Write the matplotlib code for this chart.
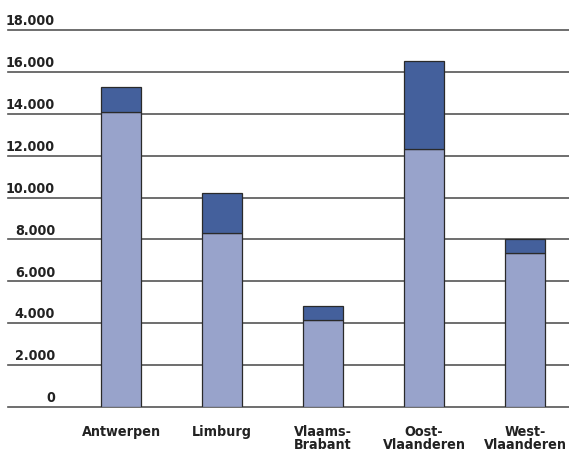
import matplotlib.pyplot as plt
from matplotlib import font_manager

condensed = [f.fname for f in font_manager.fontManager.ttflist
             if 'Condensed' in f.fname and 'Bold' in f.fname and 'Oblique' not in f.fname
             and 'Sans' in f.fname and 'Mono' not in f.fname]
if condensed:
    fp = font_manager.FontProperties(fname=condensed[0], size=10.3)
else:
    fp = font_manager.FontProperties(family='DejaVu Sans', weight='bold', size=9)

provinces = ['Antwerpen', 'Limburg', 'Vlaams-\nBrabant', 'Oost-\nVlaanderen', 'West-\nVlaanderen']
base = [14100, 8300, 4150, 12300, 7350]
extra = [1200, 1900, 650, 4200, 650]
yticks = [0, 2000, 4000, 6000, 8000, 10000, 12000, 14000, 16000, 18000]
ylabels = ['0', '2.000', '4.000', '6.000', '8.000', '10.000', '12.000', '14.000', '16.000', '18.000']

fig = plt.figure(figsize=(5.69, 4.52), dpi=100)
ax = fig.add_axes([8/569, 1-408/452, 561/569, 377/452])

x = list(range(len(provinces)))
for v in yticks:
    ax.axhline(v, color='#555555', lw=1.2, zorder=0, clip_on=False)
ax.bar(x, base, width=0.4, color='#98A3CB', edgecolor='#2a2a2a', lw=0.9, zorder=2)
ax.bar(x, extra, bottom=base, width=0.4, color='#44609C', edgecolor='#2a2a2a', lw=0.9, zorder=2)

ax.set_xlim(-1.119, 4.436)
ax.set_ylim(0, 18000)
for s in ax.spines.values():
    s.set_visible(False)
ax.set_xticks([])
ax.set_yticks([])

for v, lab in zip(yticks, ylabels):
    ax.annotate(lab, xy=(47/561, v), xycoords=('axes fraction', 'data'),
                xytext=(0, 2), textcoords='offset points',
                ha='right', va='bottom', fontproperties=fp, color='#222222')

for xi, lab in zip(x, provinces):
    ax.annotate(lab, xy=(xi, 0), xycoords='data', xytext=(0, -12), textcoords='offset points',
                ha='center', va='top', fontproperties=fp, color='#222222',
                linespacing=0.95)

fig.savefig('out.png', dpi=100)
